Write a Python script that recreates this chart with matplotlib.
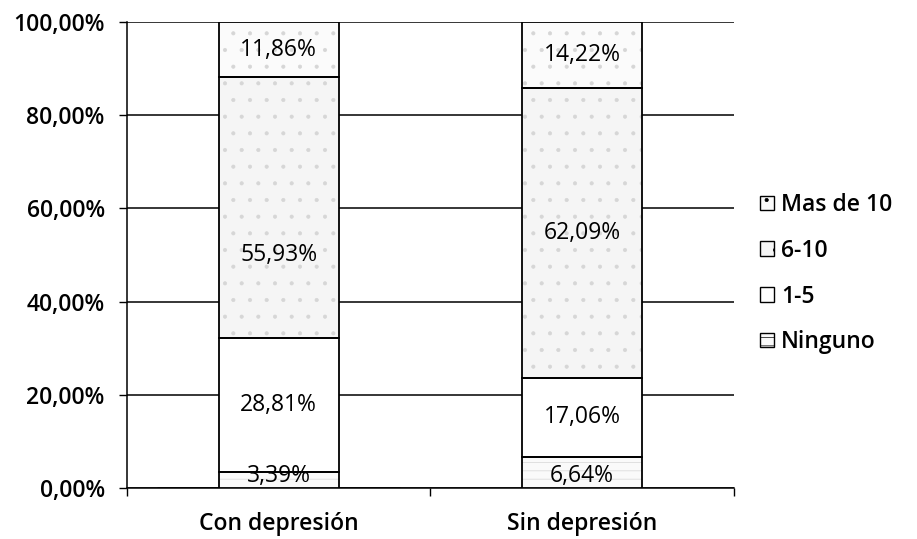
import matplotlib
matplotlib.use('Agg')
import matplotlib.pyplot as plt
import numpy as np
from matplotlib.ticker import FuncFormatter

plt.rcParams['font.family'] = ['Open Sans', 'DejaVu Sans']
plt.rcParams['hatch.linewidth'] = 0.5

# datos: porcentaje por grupo
grupos = ['Con depresión', 'Sin depresión']
categorias = ['Ninguno', '1-5', '6-10', 'Mas de 10']
ninguno = [3.39, 6.64]
uno_cinco = [28.81, 17.06]
seis_diez = [55.93, 62.09]
mas_diez = [11.86, 14.22]
series = [ninguno, uno_cinco, seis_diez, mas_diez]

rellenos = ['#fafafa', 'white', '#f5f5f5', '#fbfbfb']
tramas = ['--', None, '.', '.']

fs = 16.5
fig = plt.figure(figsize=(9.17, 5.39), dpi=100)
ax = fig.add_axes([0.1385, 0.0946, 0.6615, 0.8646])

x = np.arange(len(grupos))
ancho = 0.395
base = np.zeros(len(grupos))
for i, (vals, cat) in enumerate(zip(series, categorias)):
    vals = np.array(vals)
    # relleno punteado claro debajo, contorno negro encima
    ax.bar(x, vals, ancho, bottom=base, color=rellenos[i], hatch=tramas[i],
           edgecolor='#d6d6d6', linewidth=0, zorder=3)
    ax.bar(x, vals, ancho, bottom=base, facecolor='none',
           edgecolor='black', linewidth=1.3, zorder=4)
    ax.bar([0], [0], color=rellenos[i], hatch=tramas[i], edgecolor='black',
           linewidth=1.0, label=cat)
    for j in range(len(grupos)):
        yc = base[j] + vals[j] / 2
        if i == 2 and j == 0:
            yc = 50  # etiqueta desplazada en la primera barra
        if i == 0:
            yc = base[j] + 2.5
        ax.text(x[j], yc, ('%.2f%%' % vals[j]).replace('.', ','),
                ha='center', va='center', fontsize=fs, color='black', zorder=5)
    base += vals

ax.set_xlim(-0.5, 1.5)
ax.set_ylim(0, 100)
ax.set_yticks(np.arange(0, 101, 20))
ax.yaxis.set_major_formatter(FuncFormatter(lambda v, p: ('%.2f%%' % v).replace('.', ',')))
ax.grid(axis='y', color='black', linewidth=1.1, zorder=0)
ax.set_xticks([-0.5, 0.5, 1.5], minor=False)
ax.set_xticklabels(['', '', ''])
ax.set_xticks(x, minor=True)
ax.set_xticklabels(grupos, minor=True, fontsize=fs, fontweight='semibold')
ax.tick_params(axis='x', which='minor', length=0, pad=17)
ax.tick_params(axis='x', which='major', length=6, width=1, direction='out')
ax.tick_params(axis='y', length=6, width=1, direction='out', labelsize=fs, pad=10)
for lbl in ax.get_yticklabels():
    lbl.set_fontweight('semibold')

ax.spines['top'].set_visible(False)
ax.spines['right'].set_visible(False)
ax.spines['left'].set_linewidth(1.1)
ax.spines['bottom'].set_linewidth(1.1)

handles, labels = ax.get_legend_handles_labels()
leg = ax.legend(handles[::-1], labels[::-1], loc='center left',
                bbox_to_anchor=(1.01, 0.46), frameon=False, fontsize=fs,
                handlelength=0.6, handleheight=0.6, handletextpad=0.3,
                labelspacing=0.95)
for t in leg.get_texts():
    t.set_fontweight('semibold')

fig.savefig('out.png', dpi=100)
